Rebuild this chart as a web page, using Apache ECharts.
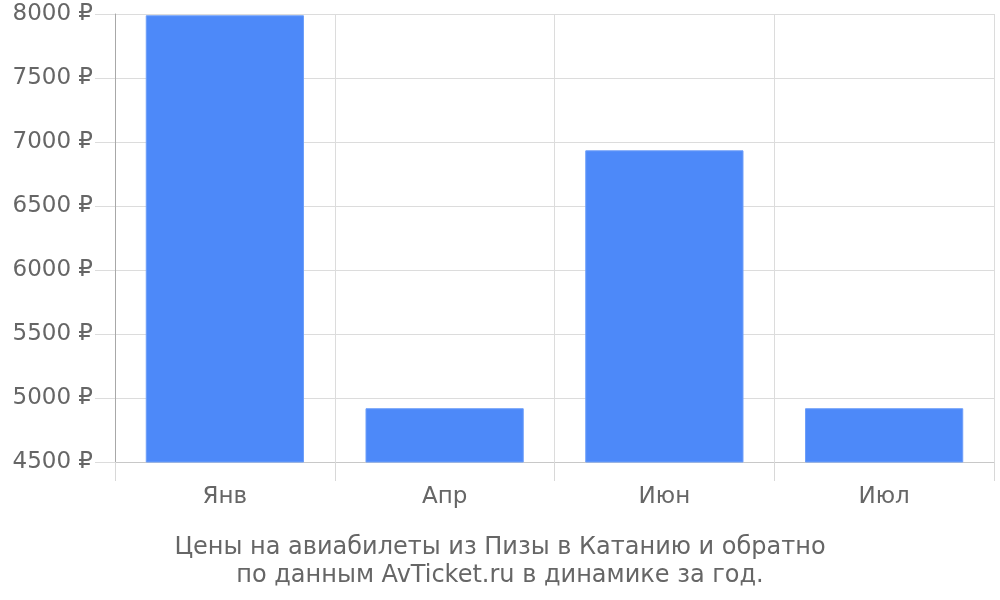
<!DOCTYPE html>
<html><head><meta charset="utf-8">
<script src="https://cdn.jsdelivr.net/npm/echarts@6/dist/echarts.min.js"></script>
<style>html,body{margin:0;padding:0;background:#fff}#c{width:1000px;height:600px}</style>
</head><body><div id="c"></div>
<script>
const categories = ['Янв', 'Апр', 'Июн', 'Июл'];
const prices = [7990, 4920, 6935, 4920];
const yTicks = {min: 4500, max: 8000, interval: 500};
const titleLines = ['Цены на авиабилеты из Пизы в Катанию и обратно', 'по данным AvTicket.ru в динамике за год.'];

const chart = echarts.init(document.getElementById('c'), null, {renderer: 'canvas'});
const font = 'DejaVu Sans';
chart.setOption({
  animation: false,
  textStyle: {fontFamily: font},
  title: {
    text: titleLines.join('\n'),
    left: 'center', top: 529,
    textStyle: {fontFamily: font, fontSize: 24, fontWeight: 'normal', color: '#666', lineHeight: 28, align: 'center'}
  },
  grid: {left: 115, right: 6, top: 14, bottom: 138, containLabel: false},
  xAxis: {
    type: 'category', data: categories, boundaryGap: true,
    axisLine: {show: true, lineStyle: {color: '#c8c8c8', width: 1}},
    axisTick: {show: true, length: 19, lineStyle: {color: '#d8d8d8'}},
    splitLine: {show: true, lineStyle: {color: '#dcdcdc', width: 1}},
    axisLabel: {fontFamily: font, fontSize: 23, color: '#666', margin: 24}
  },
  yAxis: {
    type: 'value', min: yTicks.min, max: yTicks.max, interval: yTicks.interval,
    axisLine: {show: true, lineStyle: {color: '#a8a8a8', width: 1}},
    axisTick: {show: true, length: 20, lineStyle: {color: '#dcdcdc'}},
    splitLine: {show: true, lineStyle: {color: '#dcdcdc', width: 1}},
    axisLabel: {fontFamily: font, fontSize: 23, color: '#666', margin: 22, padding: [4, 0, 0, 0], formatter: v => v + ' ₽'}
  },
  series: [{
    type: 'bar', data: prices, barWidth: '72%',
    itemStyle: {color: '#4d89f9', borderColor: '#6d9ef9', borderWidth: 1}
  }]
});
</script></body></html>
